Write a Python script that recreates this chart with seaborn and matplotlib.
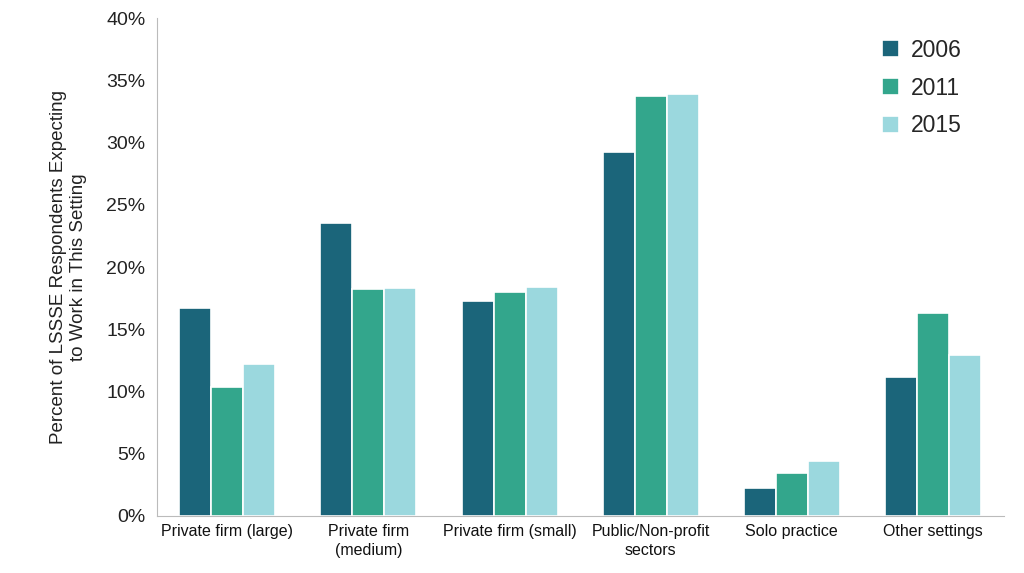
import numpy as np
import pandas as pd
import matplotlib
matplotlib.use("Agg")
import matplotlib.pyplot as plt
import seaborn as sns
from matplotlib.ticker import PercentFormatter

# data
settings = ["Private firm (large)", "Private firm\n(medium)", "Private firm (small)",
            "Public/Non-profit\nsectors", "Solo practice", "Other settings"]
years = ["2006", "2011", "2015"]
pct_2006 = [16.7, 23.5, 17.3, 29.2, 2.25, 11.2]
pct_2011 = [10.4, 18.2, 18.0, 33.7, 3.45, 16.3]
pct_2015 = [12.2, 18.3, 18.4, 33.9, 4.4, 12.9]

df = pd.DataFrame({"Setting": settings * 3,
                   "Year": [y for y in years for _ in settings],
                   "Pct": pct_2006 + pct_2011 + pct_2015})

sns.set_style("white")
plt.rcParams['font.family'] = ['Liberation Sans', 'DejaVu Sans']

colors = ["#1B657A", "#33A68C", "#9BD8DE"]
fig = plt.figure(figsize=(10.24, 5.73), dpi=100)
ax = fig.add_axes([0.153, 0.0995, 0.827, 0.869])
sns.barplot(data=df, x="Setting", y="Pct", hue="Year", palette=colors, saturation=1,
            width=0.68, edgecolor="white", linewidth=1.2, ax=ax)

ax.set_ylim(0, 40)
ax.set_yticks(np.arange(0, 41, 5))
ax.yaxis.set_major_formatter(PercentFormatter(decimals=0))
ax.set_xlabel("")
ax.set_ylabel("Percent of LSSSE Respondents Expecting\nto Work in This Setting",
              fontsize=13.5, color="#222222", labelpad=14)
ax.tick_params(axis="y", labelsize=14, colors="#222222", length=0, pad=8)
ax.tick_params(axis="x", labelsize=11.5, colors="#111111", length=0, pad=6)
for lbl in ax.get_xticklabels():
    lbl.set_linespacing(1.3)
for s in ["top", "right"]:
    ax.spines[s].set_visible(False)
for s in ["left", "bottom"]:
    ax.spines[s].set_color("#BBBBBB")

leg = ax.legend(title=None, loc="upper right", bbox_to_anchor=(0.975, 1.0), frameon=False,
                fontsize=16.5, handlelength=0.75, handleheight=0.75, handletextpad=0.5,
                labelspacing=0.65)
fig.savefig("out.png", dpi=100)
